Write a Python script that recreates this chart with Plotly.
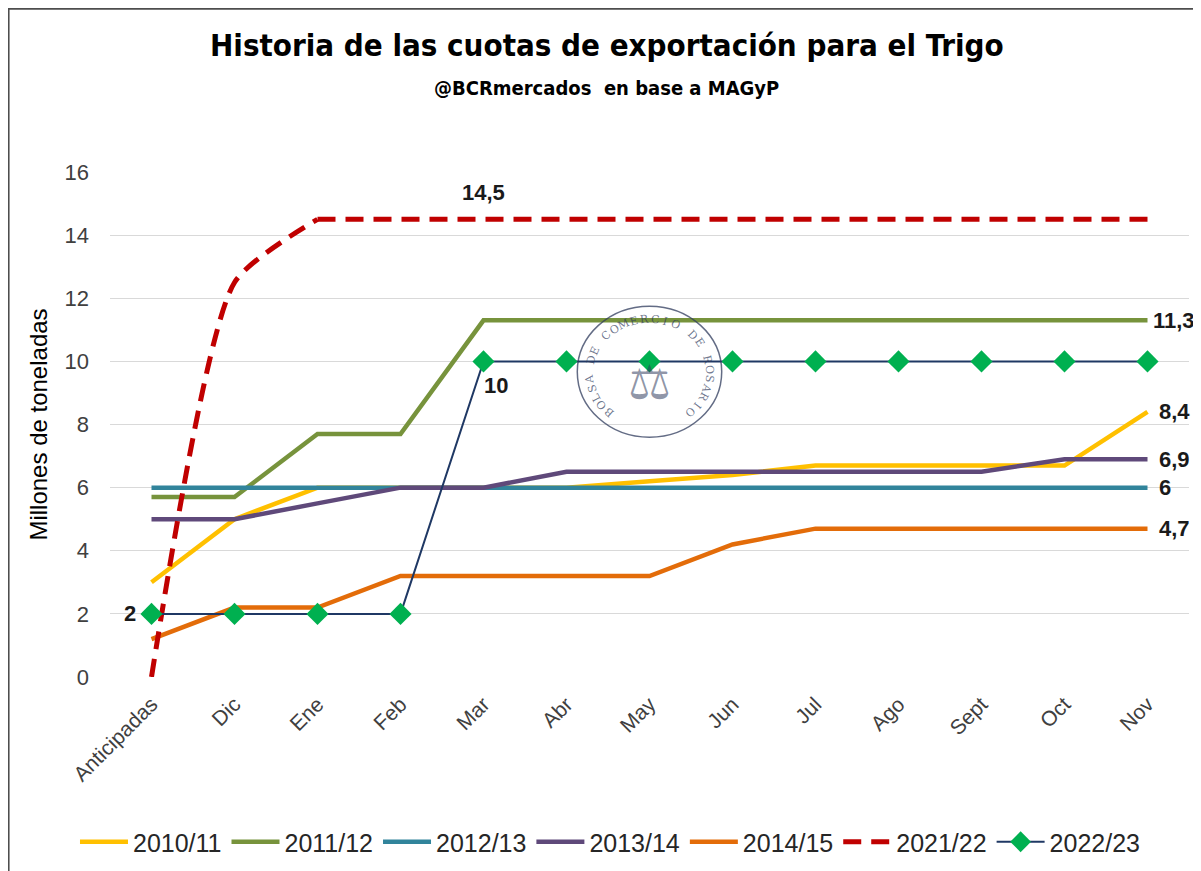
import math
import plotly.graph_objects as go

months = ["Anticipadas", "Dic", "Ene", "Feb", "Mar", "Abr", "May", "Jun", "Jul", "Ago", "Sept", "Oct", "Nov"]

s2010 = [3.0, 5.0, 6.0, 6.0, 6.0, 6.0, 6.2, 6.4, 6.7, 6.7, 6.7, 6.7, 8.4]
s2011 = [5.7, 5.7, 7.7, 7.7, 11.3, 11.3, 11.3, 11.3, 11.3, 11.3, 11.3, 11.3, 11.3]
s2012 = [6, 6, 6, 6, 6, 6, 6, 6, 6, 6, 6, 6, 6]
s2013 = [5.0, 5.0, 5.5, 6.0, 6.0, 6.5, 6.5, 6.5, 6.5, 6.5, 6.5, 6.9, 6.9]
s2014 = [1.2, 2.2, 2.2, 3.2, 3.2, 3.2, 3.2, 4.2, 4.7, 4.7, 4.7, 4.7, 4.7]
s2021 = [0, 12.5, 14.5, 14.5, 14.5, 14.5, 14.5, 14.5, 14.5, 14.5, 14.5, 14.5, 14.5]
s2022 = [2, 2, 2, 2, 10, 10, 10, 10, 10, 10, 10, 10, 10]

yticks = [0, 2, 4, 6, 8, 10, 12, 14, 16]

def fmt(v):
    return ("%g" % v).replace(".", ",")

x = list(range(len(months)))
fig = go.Figure()

W = 4.5
RED_DASH = "18px,10px"
fig.add_trace(go.Scatter(x=x, y=s2010, name="2010/11", mode="lines",
                         line=dict(color="#FFC000", width=W)))
fig.add_trace(go.Scatter(x=x, y=s2011, name="2011/12", mode="lines",
                         line=dict(color="#77933C", width=W)))
fig.add_trace(go.Scatter(x=x, y=s2012, name="2012/13", mode="lines",
                         line=dict(color="#31849B", width=W)))
fig.add_trace(go.Scatter(x=x, y=s2013, name="2013/14", mode="lines",
                         line=dict(color="#5F497A", width=W)))
fig.add_trace(go.Scatter(x=x, y=s2014, name="2014/15", mode="lines",
                         line=dict(color="#E36C09", width=W)))
# 2021/22: smoothed start (as in the original), straight afterwards
fig.add_trace(go.Scatter(x=x[:3], y=s2021[:3], name="2021/22", mode="lines", showlegend=False,
                         legendgroup="r",
                         line=dict(color="#C00000", width=5, dash=RED_DASH, shape="spline", smoothing=0.6)))
fig.add_trace(go.Scatter(x=x[2:], y=s2021[2:], name="2021/22", mode="lines", legendgroup="r",
                         line=dict(color="#C00000", width=5, dash=RED_DASH)))
fig.add_trace(go.Scatter(x=x, y=s2022, name="2022/23", mode="lines+markers",
                         line=dict(color="#1F3864", width=2),
                         marker=dict(symbol="diamond", size=17, color="#00B050",
                                     line=dict(color="#00B050", width=0))))

lab_font = dict(family="Liberation Sans, Arial, sans-serif", size=22, color="#1a1a1a", weight="bold")
anns = []
last = len(months) - 1
for s, xs in [(s2011, 3), (s2010, 9), (s2013, 9), (s2012, 9), (s2014, 9)]:
    anns.append(dict(x=last, y=s[last], text=fmt(s[last]), showarrow=False,
                     xanchor="left", yanchor="middle", xshift=xs, font=lab_font))
anns.append(dict(x=4, y=s2021[4], text=fmt(s2021[4]), showarrow=False,
                 xanchor="center", yanchor="bottom", yshift=12, font=lab_font))
anns.append(dict(x=4, y=s2022[4], text=fmt(s2022[4]), showarrow=False,
                 xanchor="left", yanchor="top", xshift=-2, yshift=-10, font=lab_font))
anns.append(dict(x=0, y=s2022[0], text=fmt(s2022[0]), showarrow=False,
                 xanchor="right", yanchor="middle", xshift=-14, font=lab_font))

anns.append(dict(xref="paper", yref="paper", x=0.4606, y=1.0, yshift=127,
                 text="Historia de las cuotas de exportación para el Trigo", showarrow=False,
                 xanchor="center", yanchor="middle",
                 font=dict(family="DejaVu Sans Condensed, Liberation Sans, sans-serif", size=31, color="#000000", weight="bold")))
anns.append(dict(xref="paper", yref="paper", x=0.4606, y=1.0, yshift=84,
                 text="@BCRmercados  en base a MAGyP", showarrow=False,
                 xanchor="center", yanchor="middle",
                 font=dict(family="DejaVu Sans Condensed, Liberation Sans, sans-serif", size=20, color="#000000", weight="bold")))

# Watermark seal (decorative)
SEAL_COLOR = "rgba(47,59,92,0.7)"
seal_cx, seal_cy = 6.0, 9.65          # axis units
px_x, px_y = 83.0, 31.56              # pixels per axis unit
seal_text = "BOLSA DE COMERCIO DE ROSARIO"
n = len(seal_text)
t0, t1 = 228.0, -48.0
for i, ch in enumerate(seal_text):
    if ch == " ":
        continue
    t = t0 + (t1 - t0) * i / (n - 1)
    tr = math.radians(t)
    anns.append(dict(x=seal_cx + 60 * math.cos(tr) / px_x,
                     y=seal_cy + 53 * math.sin(tr) / px_y,
                     text=ch, showarrow=False, textangle=90 - t,
                     xanchor="center", yanchor="middle",
                     font=dict(family="DejaVu Serif, serif", size=11, color=SEAL_COLOR)))
anns.append(dict(x=seal_cx, y=seal_cy - 0.3, text="⚖", showarrow=False,
                 xanchor="center", yanchor="middle",
                 font=dict(family="DejaVu Sans, sans-serif", size=48, color="rgba(47,59,92,0.55)")))

shapes = [
    dict(type="rect", xref="paper", yref="paper", x0=-0.0940, x1=1.1, y0=-0.5, y1=1.3235,
         line=dict(color="#4D4D4D", width=2), fillcolor="rgba(0,0,0,0)", layer="below"),
    dict(type="circle", xref="x", yref="y", x0=5.13, x1=6.87, y0=7.6, y1=11.75,
         line=dict(color="rgba(47,59,92,0.75)", width=1.5), layer="above"),
]

# The page body adds an 8px offset, so the figure is sized 8px smaller.
fig.update_layout(
    width=1193, height=863,
    margin=dict(l=102, r=12, t=164, b=194, autoexpand=False),
    paper_bgcolor="white", plot_bgcolor="white",
    showlegend=True,
    legend=dict(orientation="h", xref="container", yref="container",
                x=0.5046, xanchor="center", y=0.0336, yanchor="middle",
                font=dict(family="Liberation Sans, Arial, sans-serif", size=25, color="#262626"),
                itemwidth=48, tracegroupgap=0, traceorder="normal"),
    annotations=anns,
    shapes=shapes,
    xaxis=dict(range=[-0.5, 12.5], tickmode="array", tickvals=x, ticktext=months,
               tickangle=-45, showgrid=False, zeroline=False, showline=False,
               ticks="", ticklabelstandoff=10, automargin=False,
               tickfont=dict(family="Liberation Sans, Arial, sans-serif", size=21, color="#404040")),
    yaxis=dict(range=[0, 16], tickmode="array", tickvals=yticks, showgrid=True,
               gridcolor="#D9D9D9", gridwidth=1.3, zeroline=False, showline=False, ticks="",
               ticklabelstandoff=20, automargin=False,
               tickfont=dict(family="Liberation Sans, Arial, sans-serif", size=22, color="#404040"),
               title=dict(text="Millones de toneladas", standoff=10,
                          font=dict(family="Liberation Sans, Arial, sans-serif", size=24, color="#000000"))),
)

fig.write_html("out.html")
